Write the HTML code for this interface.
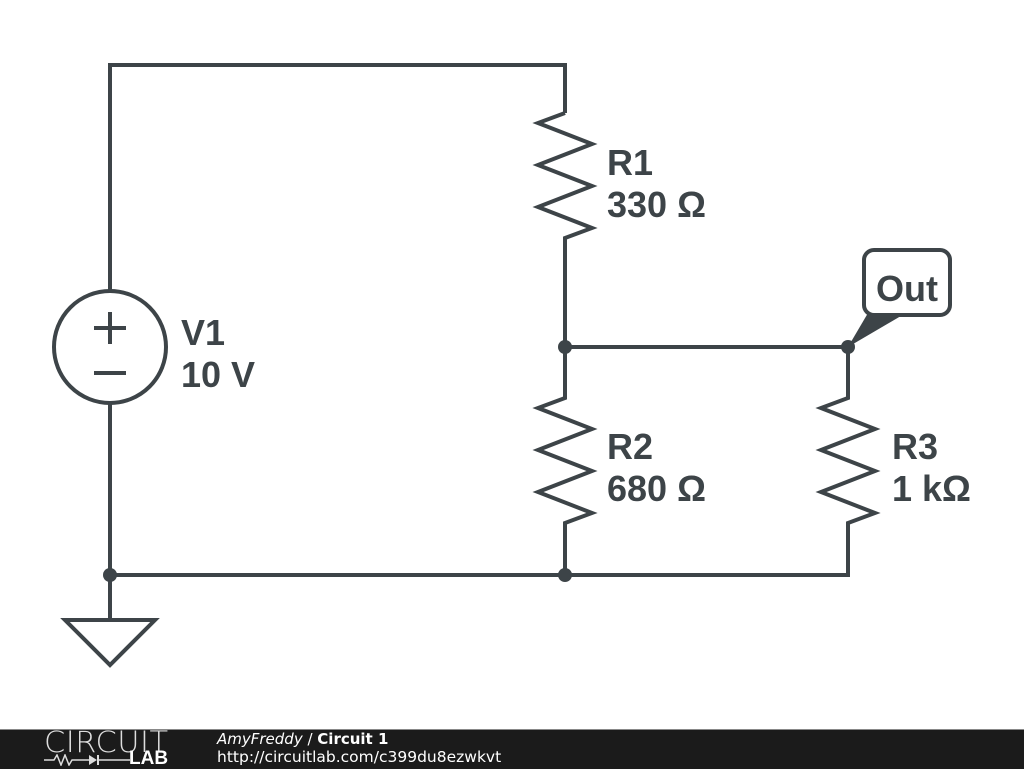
<!DOCTYPE html>
<html><head><meta charset="utf-8"><style>
body{margin:0;width:1024px;height:768px;background:#fff;overflow:hidden;position:relative}
svg{position:absolute;left:0;top:0}
.f{position:absolute;left:0;top:729px;width:1024px;height:39px;background:#1b1b1b;border-top:1px solid #888}
</style></head><body>
<svg width="1024" height="768" viewBox="0 0 1024 768">
<g fill="none" stroke="#3d4448" stroke-width="4" stroke-linejoin="miter">
<polyline points="110,291 110,65 565,65 565,113"/>
<polyline points="565,113 538,123 592,144 538,165 592,186 538,207 592,228 565,238 565,347"/>
<polyline points="565,347 565,398 538,408 592,429 538,450 592,471 538,492 592,513 565,523 565,575"/>
<polyline points="848,347 848,398 821,408 875,429 821,450 875,471 821,492 875,513 848,523 848,575 110,575"/>
<line x1="565" y1="347" x2="848" y2="347"/>
<polyline points="110,403 110,620"/>
<circle cx="110" cy="347" r="56"/>
<line x1="94" y1="328" x2="126" y2="328"/><line x1="110" y1="312" x2="110" y2="344"/>
<line x1="94" y1="373" x2="126" y2="373"/>
<polygon points="65,620 155,620 110,665"/>
<rect x="864" y="250" width="86" height="65" rx="10"/>
</g>
<polygon points="848,347 868,313 906,313" fill="#3d4448"/>
<g fill="#3d4448"><circle cx="565" cy="347" r="7"/><circle cx="848" cy="347" r="7"/><circle cx="565" cy="575" r="7"/><circle cx="110" cy="575" r="7"/></g>
<g font-family="Liberation Sans, sans-serif" font-weight="bold" font-size="36" fill="#3d4448">
<text x="607" y="175">R1</text><text x="607" y="217">330 Ω</text>
<text x="607" y="459">R2</text><text x="607" y="501">680 Ω</text>
<text x="892" y="459">R3</text><text x="892" y="501">1 kΩ</text>
<text x="181" y="345">V1</text><text x="181" y="387">10 V</text>
<text x="876" y="301">Out</text>
</g>
</svg>
<div class="f">
<div style="position:absolute;left:44px;top:-2px;color:#ddd;font:200 29px 'DejaVu Sans',sans-serif;letter-spacing:0.5px;line-height:28px;transform:scaleX(1.05);transform-origin:left">CIRCUIT</div>
<div style="position:absolute;left:129px;top:18px;color:#fff;font:bold 19px 'Liberation Sans',sans-serif">LAB</div>
<svg width="90" height="12" style="left:44px;top:24px" viewBox="0 0 90 12"><polyline points="0,6 10,6 13,1 17,11 21,1 25,11 28,6 45,6" fill="none" stroke="#ddd" stroke-width="1.5"/><polygon points="45,1 45,11 53,6" fill="#ddd"/><line x1="54" y1="1" x2="54" y2="11" stroke="#ddd" stroke-width="2"/><line x1="54" y1="6" x2="86" y2="6" stroke="#ddd" stroke-width="1.5"/></svg>
<div style="position:absolute;left:217px;top:0px;color:#fff;font:15px 'DejaVu Sans',sans-serif"><i>AmyFreddy</i> / <b>Circuit 1</b></div>
<div style="position:absolute;left:217px;top:18px;color:#fff;font:15.5px 'DejaVu Sans',sans-serif">http://circuitlab.com/c399du8ezwkvt</div>
</div>
</body></html>
